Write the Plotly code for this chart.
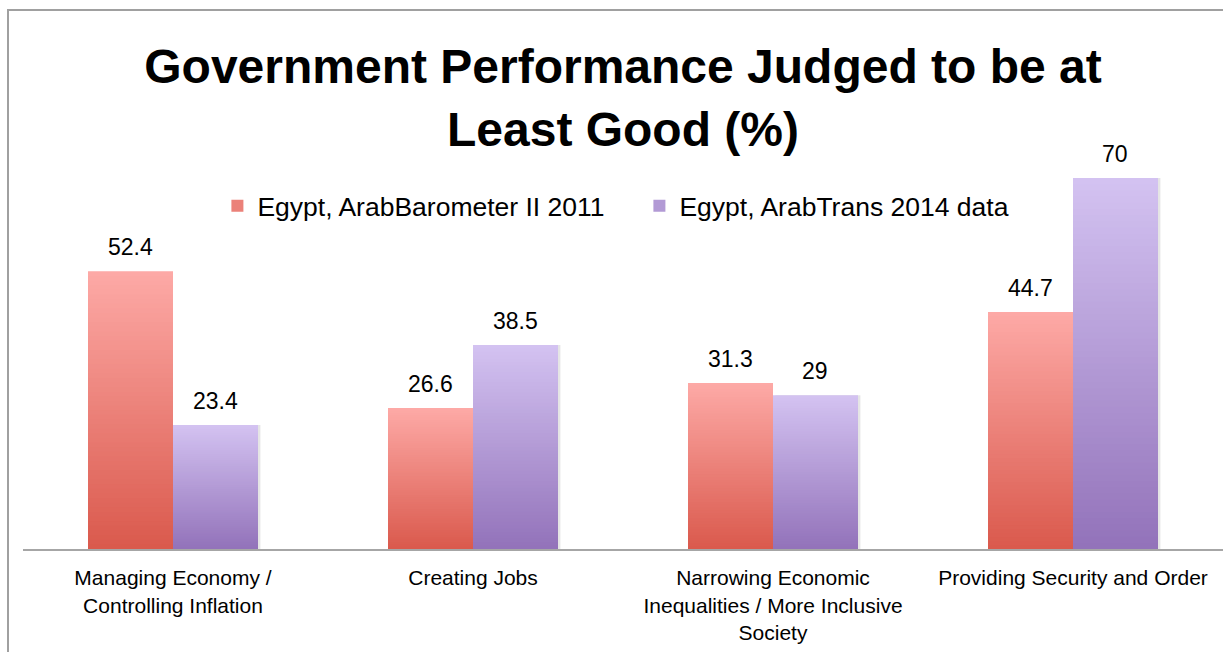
import plotly.graph_objects as go

# Survey results: share judging government performance as at least good (%)
categories = [
    "Managing Economy /<br>Controlling Inflation",
    "Creating Jobs",
    "Narrowing Economic<br>Inequalities / More Inclusive<br>Society",
    "Providing Security and Order",
]
series_names = ["Egypt, ArabBarometer II 2011", "Egypt, ArabTrans 2014 data"]
barometer_2011 = [52.4, 26.6, 31.3, 44.7]
arabtrans_2014 = [23.4, 38.5, 29.0, 70.0]

# top (light) and bottom (dark) colours of each series' vertical gradient
gradient_top = ["#FDA9A6", "#D3C2F1"]
gradient_bottom = ["#DA5A4D", "#9373BA"]

BAR_WIDTH = 0.2833   # in category units
STEPS = 60           # gradient bands per bar


def hex_rgb(h):
    h = h.lstrip("#")
    return tuple(int(h[i:i + 2], 16) for i in (0, 2, 4))


def mix(c_top, c_bot, t):
    a, b = hex_rgb(c_top), hex_rgb(c_bot)
    return "rgb({},{},{})".format(*[round(a[i] + (b[i] - a[i]) * t) for i in range(3)])


fig = go.Figure()

series = [barometer_2011, arabtrans_2014]
offsets = [-BAR_WIDTH, 0.0]

# soft drop shadow on the right of the second series
fig.add_trace(go.Bar(
    x=categories, y=arabtrans_2014, width=BAR_WIDTH, offset=0.008,
    marker=dict(color="rgba(0,0,0,0.10)", line=dict(width=0)),
    showlegend=False, hoverinfo="skip",
))

for s, values in enumerate(series):
    # overlapping bars, each a bit shorter and darker: the top band of each
    # stays visible and together they form a top-to-bottom gradient
    for k in range(STEPS):
        frac = 1 - k / STEPS
        fig.add_trace(go.Bar(
            x=categories,
            y=[v * frac for v in values],
            width=BAR_WIDTH,
            offset=offsets[s],
            marker=dict(color=mix(gradient_top[s], gradient_bottom[s], k / (STEPS - 1)),
                        line=dict(width=0)),
            name=series_names[s],
            legendgroup=series_names[s],
            showlegend=(k == STEPS // 2),
            hoverinfo="skip" if k else None,
        ))

# value labels above each bar
for s, values in enumerate(series):
    for cat, v in zip(categories, values):
        fig.add_annotation(
            x=cat, y=v, text=f"{v:g}", showarrow=False,
            xshift=(offsets[s] + BAR_WIDTH / 2) * 300,
            yanchor="bottom", yshift=9,
            font=dict(size=23, color="black"),
        )

# chart frame
fig.add_shape(
    type="rect", xref="paper", yref="paper",
    x0=(8 - 23) / 1200, x1=1.05, y0=-0.5, y1=(549 - 10) / 424,
    line=dict(color="#A0A0A0", width=2), fillcolor="rgba(0,0,0,0)", layer="below",
)

fig.update_layout(
    width=1223, height=652,
    margin=dict(l=23, r=0, t=125, b=103),
    paper_bgcolor="white", plot_bgcolor="white",
    barmode="overlay",
    font=dict(family="Liberation Sans, Arial, sans-serif", color="black"),
    title=dict(
        text="<b>Government Performance Judged to be at<br>Least Good (%)</b>",
        font=dict(size=48, color="black"),
        x=0.5, xref="paper", xanchor="center",
        y=0.872, yref="container", yanchor="top",
    ),
    legend=dict(
        orientation="h", x=0.162, y=0.809, xanchor="left", yanchor="middle",
        font=dict(size=26.5), bgcolor="rgba(0,0,0,0)",
        entrywidth=377, entrywidthmode="pixels",
    ),
    xaxis=dict(
        showline=True, linecolor="#A6A6A6", linewidth=2,
        showgrid=False, ticks="", ticklabelstandoff=9,
        tickfont=dict(size=21, color="black"),
        range=[-0.5, 3.5],
    ),
    yaxis=dict(range=[0, 80], visible=False, showgrid=False),
    showlegend=True,
)

fig.write_html("out.html")
